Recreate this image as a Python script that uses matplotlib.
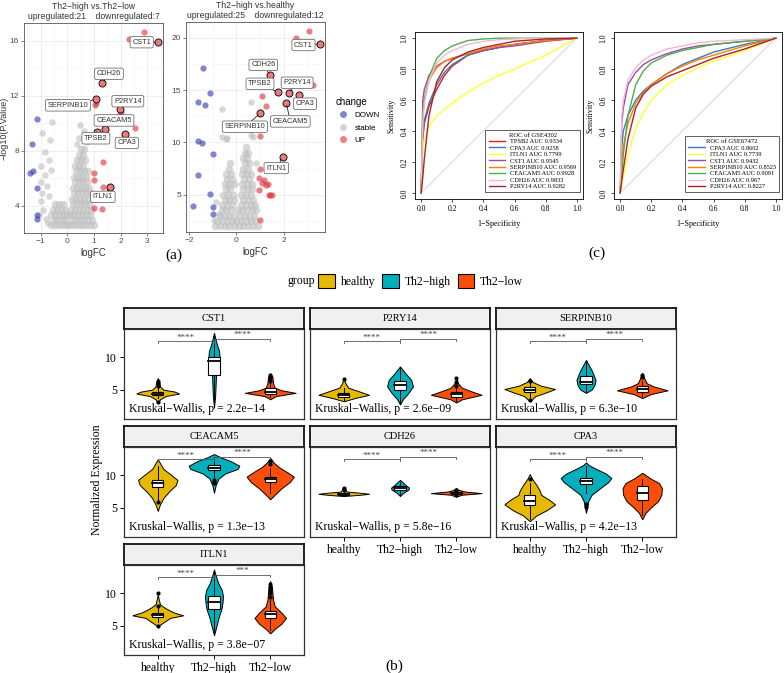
import numpy as np
import matplotlib.pyplot as plt
from matplotlib.patches import Patch, Rectangle
from matplotlib.lines import Line2D

SANS = "Liberation Sans"
SERIF = "Liberation Serif"

# ---------------- volcano data (a) ----------------
# left: Th2-high vs Th2-low
v1_gray = {  # y value -> x values of the stable cloud
    2.6: [-0.6, -0.45, -0.3, -0.15, 0.0, 0.1, 0.25, 0.4, 0.55, 0.7, 0.85, 1.0],
    2.95: [-0.52, -0.38, -0.22, -0.08, 0.17, 0.32, 0.47, 0.62, 0.78, 0.93],
    3.3: [-0.62, -0.48, -0.32, -0.18, -0.03, 0.1, 0.25, 0.4, 0.55, 0.7, 0.85],
    3.7: [-0.55, -0.4, -0.25, -0.1, 0.15, 0.3, 0.45, 0.6, 0.75, 0.9],
    4.1: [-0.45, -0.3, -0.15, 0.22, 0.37, 0.52, 0.67, 0.82],
    4.5: [0.18, 0.33, 0.48, 0.63, 0.78],
    4.9: [0.24, 0.39, 0.54, 0.69, 0.84],
    5.3: [0.2, 0.35, 0.5, 0.65, 0.8],
    5.7: [0.27, 0.42, 0.57, 0.72],
    6.1: [0.25, 0.4, 0.55, 0.7],
    6.5: [0.32, 0.47, 0.62, 0.77],
    6.9: [0.3, 0.45, 0.6],
    7.3: [0.37, 0.52, 0.67],
    7.7: [0.42, 0.57],
    8.1: [0.5, 0.62],
}
v1_gray_x = [-0.58, -0.95, -0.65, -0.85, -0.7, -1.0, -0.6, -0.85, -1.0, -0.75, -0.95, -0.7, -1.0, -0.9,
             -1.05, 0.48, 0.62, 0.45, 0.75, 0.35, -0.8, -0.72]
v1_gray_y = [10.1, 9.3, 8.8, 7.9, 7.3, 6.9, 6.6, 6.2, 5.7, 5.4, 4.9, 4.7, 4.3, 3.7, 3.3, 9.9, 9.4, 8.9,
             8.6, 8.5, 3.0, 2.7]
v1_down_x = [-1.15, -1.33, -1.31, -1.4, -1.15, -1.15, -1.15]
v1_down_y = [10.3, 8.46, 6.52, 6.4, 5.26, 3.32, 3.03]
v1_up_x = [2.89, 2.33, 1.04, 1.98, 2.54, 1.35, 1.01, 1.01, 1.35, 1.01, 1.31, 1.06, 2.0]
v1_up_y = [16.65, 16.1, 11.3, 10.7, 9.67, 7.2, 6.35, 5.87, 5.33, 3.8, 3.73, 11.5, 10.85]
v1_genes = ["CST1", "CDH26", "SERPINB10", "P2RY14", "CEACAM5", "TPSB2", "CPA3", "ITLN1"]
v1_lab_x = [3.41, 1.31, 1.06, 1.98, 1.41, 1.1, 2.16, 1.6]
v1_lab_y = [15.9, 12.9, 11.73, 11.0, 9.6, 9.38, 9.2, 5.33]

# right: Th2-high vs healthy
v2_gray = {
    2.0: [-0.9, -0.7, -0.5, -0.3, -0.1, 0.1, 0.3, 0.5, 0.7, 0.9],
    2.5: [-0.8, -0.6, -0.4, -0.2, 0.0, 0.2, 0.4, 0.6, 0.8],
    3.0: [-0.7, -0.5, -0.3, -0.1, 0.15, 0.35, 0.55, 0.75],
    3.5: [-0.62, -0.42, -0.22, 0.05, 0.25, 0.45, 0.65, 0.85],
    4.0: [-0.6, -0.4, -0.2, 0.2, 0.4, 0.6, 0.8],
    4.5: [-0.5, -0.3, -0.1, 0.3, 0.5, 0.7],
    5.0: [-0.55, -0.35, -0.15, 0.2, 0.4, 0.6],
    5.5: [-0.45, -0.25, 0.3, 0.5, 0.68],
    6.0: [-0.5, -0.3, -0.1, 0.25, 0.45, 0.65],
    6.5: [-0.4, -0.2, 0.32, 0.52],
    7.0: [-0.42, -0.22, 0.25, 0.45, 0.6],
    7.5: [-0.3, 0.3, 0.5],
    8.0: [-0.25, 0.35, 0.52],
    8.5: [0.3, 0.45],
    9.0: [0.35, 0.5],
    9.6: [0.4],
}
v2_gray_x = [-0.59, 0.63, -0.59, -0.38, 0.63, 0.7, -0.87, -0.45, 0.85, -0.75, -0.95]
v2_gray_y = [13.15, 13.9, 10.5, 10.4, 10.7, 10.5, 4.3, 10.3, 8.0, 3.2, 2.6]
v2_down_x = [-1.43, -1.64, -1.33, -1.12, -1.61, -1.47, -0.98, -1.61, -1.12, -1.85, -0.98, -0.98]
v2_down_y = [17.1, 13.9, 13.6, 14.7, 10.1, 9.9, 8.85, 6.9, 5.1, 3.95, 3.8, 3.2]
v2_up_x = [3.08, 2.52, 3.26, 1.09, 1.27, 1.02, 0.98, 0.95, 1.09, 1.27, 1.44, 1.37, 1.02, 1.19, 1.33,
           1.51, 0.97]
v2_up_y = [20.6, 20.0, 15.5, 14.4, 13.5, 10.6, 7.45, 6.56, 6.15, 5.9, 5.0, 5.0, 2.6, 6.4, 6.0, 5.0, 5.45]
v2_genes = ["CST1", "CDH26", "TPSB2", "P2RY14", "CPA3", "CEACAM5", "SERPINB10", "ITLN1"]
v2_lab_x = [3.54, 1.44, 1.75, 2.21, 2.67, 2.11, 1.02, 1.97]
v2_lab_y = [19.4, 16.4, 14.8, 14.7, 14.5, 13.8, 12.8, 8.57]

# ---------------- ROC data (c) ----------------
roc_fpr = [0, 0.01, 0.02, 0.05, 0.1, 0.15, 0.2, 0.3, 0.4, 0.5, 0.6, 0.8, 1.0]
roc1_genes = ["TPSB2", "CPA3", "ITLN1", "CST1", "SERPINB10", "CEACAM5", "CDH26", "P2RY14"]
roc1_auc = ["0.9334", "0.9258", "0.7799", "0.9545", "0.9569", "0.9928", "0.9833", "0.9282"]
roc1_tpr = [
    [0, 0.35, 0.45, 0.56, 0.67, 0.76, 0.82, 0.89, 0.92, 0.94, 0.96, 0.985, 1],
    [0, 0.36, 0.47, 0.58, 0.70, 0.78, 0.83, 0.89, 0.92, 0.94, 0.96, 0.985, 1],
    [0, 0.28, 0.35, 0.43, 0.50, 0.54, 0.58, 0.65, 0.71, 0.76, 0.80, 0.89, 1],
    [0, 0.60, 0.67, 0.76, 0.82, 0.85, 0.87, 0.90, 0.92, 0.94, 0.95, 0.98, 1],
    [0, 0.50, 0.60, 0.73, 0.81, 0.85, 0.87, 0.90, 0.93, 0.95, 0.96, 0.985, 1],
    [0, 0.50, 0.60, 0.75, 0.87, 0.92, 0.95, 0.985, 0.995, 1, 1, 1, 1],
    [0, 0.45, 0.58, 0.73, 0.84, 0.89, 0.92, 0.96, 0.98, 0.99, 0.995, 1, 1],
    [0, 0.10, 0.22, 0.50, 0.72, 0.81, 0.86, 0.91, 0.94, 0.96, 0.98, 0.995, 1],
]
roc2_genes = ["CPA3", "ITLN1", "CST1", "SERPINB10", "CEACAM5", "CDH26", "P2RY14"]
roc2_auc = ["0.8602", "0.7739", "0.9432", "0.8523", "0.9091", "0.967", "0.8227"]
roc2_tpr = [
    [0, 0.30, 0.40, 0.50, 0.60, 0.66, 0.70, 0.77, 0.83, 0.87, 0.91, 0.96, 1],
    [0, 0.05, 0.10, 0.25, 0.42, 0.52, 0.60, 0.70, 0.76, 0.81, 0.85, 0.92, 1],
    [0, 0.45, 0.55, 0.70, 0.78, 0.83, 0.86, 0.90, 0.93, 0.95, 0.96, 0.98, 1],
    [0, 0.20, 0.30, 0.45, 0.58, 0.65, 0.70, 0.77, 0.82, 0.86, 0.89, 0.95, 1],
    [0, 0.12, 0.25, 0.50, 0.70, 0.79, 0.84, 0.89, 0.92, 0.94, 0.96, 0.98, 1],
    [0, 0.50, 0.60, 0.73, 0.81, 0.86, 0.89, 0.93, 0.95, 0.97, 0.98, 0.99, 1],
    [0, 0.08, 0.15, 0.35, 0.55, 0.64, 0.69, 0.75, 0.79, 0.83, 0.87, 0.93, 1],
]
roc_colors = {"TPSB2": "#E41A1C", "CPA3": "#377EB8", "ITLN1": "#FFFF33", "CST1": "#984EA3",
              "SERPINB10": "#FF7F00", "CEACAM5": "#4DAF4A", "CDH26": "#F7B6D2", "P2RY14": "#A5262A"}

# ---------------- violin data (b) ----------------
groups = ["healthy", "Th2\u2212high", "Th2\u2212low"]
group_colors = ["#E7B800", "#00AFBB", "#FC4E07"]
facets = ["CST1", "P2RY14", "SERPINB10", "CEACAM5", "CDH26", "CPA3", "ITLN1"]
kw_p = ["2.2e\u221214", "2.6e\u221209", "6.3e\u221210", "1.3e\u221213", "5.8e\u221216", "4.2e\u221213",
        "3.8e\u221207"]
sig_left = ["****"] * 7
sig_right = ["****"] * 6 + ["***"]

# density outline per gene and group: (y values, half widths)
vio_y = {
    "CST1": [[2.9, 3.5, 4.0, 4.4, 4.7, 5.0, 5.5, 6.0, 6.8],
             [2.2, 4, 6, 8, 9, 10, 11, 12, 13.8],
             [3.5, 4.0, 4.5, 4.9, 5.3, 6.0, 7.0, 7.5]],
    "P2RY14": [[3.2, 3.7, 4.2, 4.8, 5.3, 6.0, 6.8],
               [2.7, 3.5, 4.5, 5.5, 6.5, 7.5, 8.6],
               [3.0, 3.5, 4.2, 4.8, 5.3, 6.0, 6.8]],
    "SERPINB10": [[3.2, 4.0, 4.6, 5.1, 5.6, 6.2, 6.8],
                  [4.5, 5.0, 5.7, 6.5, 7.2, 8.0, 8.8, 9.6],
                  [3.7, 4.3, 4.9, 5.5, 6.0, 6.7, 7.6]],
    "CEACAM5": [[4.5, 5.5, 6.5, 7.5, 8.5, 9.3, 10.2, 11, 12.5],
                [7.3, 8.5, 9.5, 10.3, 11.0, 11.5, 12.2, 12.8, 13.3],
                [6.3, 7, 8, 9, 9.8, 10.5, 11.3, 12, 12.7]],
    "CDH26": [[6.8, 7.0, 7.15, 7.3, 7.5, 8.0, 8.2],
              [6.8, 7.3, 7.8, 8.1, 8.5, 9.0, 9.3],
              [6.7, 7.0, 7.25, 7.5, 7.8, 8.0]],
    "CPA3": [[2.9, 3.8, 4.6, 5.5, 6.2, 7.0, 7.6, 8.5, 9.5, 10.2],
             [4.2, 5, 6, 7, 8, 9, 9.6, 10.3, 11, 11.6, 12.0],
             [3.2, 4.2, 5, 6, 7, 8, 8.8, 9.5, 10.4]],
    "ITLN1": [[4.9, 5.5, 6.2, 6.6, 7.0, 7.4, 7.8, 8.3, 9.0, 9.8],
              [3.5, 4.5, 5.5, 6.5, 7.5, 8.5, 9.5, 10.5, 11.5, 12.5, 13.7],
              [3.8, 4.5, 5.3, 6.2, 7, 8, 9, 10, 11, 11.9]],
}
vio_w = {
    "CST1": [[0, 0.04, 0.14, 0.38, 0.3, 0.1, 0.04, 0.03, 0],
             [0, 0.02, 0.03, 0.04, 0.06, 0.1, 0.09, 0.05, 0],
             [0, 0.1, 0.45, 0.2, 0.08, 0.05, 0.04, 0]],
    "P2RY14": [[0, 0.2, 0.45, 0.25, 0.08, 0.03, 0],
               [0, 0.05, 0.15, 0.23, 0.2, 0.1, 0],
               [0, 0.1, 0.45, 0.25, 0.1, 0.03, 0]],
    "SERPINB10": [[0, 0.1, 0.3, 0.45, 0.2, 0.05, 0],
                  [0, 0.1, 0.15, 0.17, 0.14, 0.1, 0.05, 0],
                  [0, 0.15, 0.45, 0.2, 0.08, 0.04, 0]],
    "CEACAM5": [[0, 0.04, 0.1, 0.2, 0.32, 0.35, 0.22, 0.1, 0],
                [0, 0.03, 0.08, 0.2, 0.42, 0.45, 0.3, 0.12, 0],
                [0, 0.08, 0.2, 0.35, 0.42, 0.3, 0.15, 0.06, 0]],
    "CDH26": [[0, 0.3, 0.45, 0.3, 0.05, 0.02, 0],
              [0, 0.06, 0.15, 0.16, 0.1, 0.04, 0],
              [0, 0.1, 0.45, 0.15, 0.03, 0]],
    "CPA3": [[0, 0.12, 0.3, 0.45, 0.35, 0.2, 0.18, 0.12, 0.04, 0],
             [0, 0.02, 0.04, 0.1, 0.25, 0.4, 0.45, 0.35, 0.18, 0.05, 0],
             [0, 0.06, 0.15, 0.28, 0.34, 0.35, 0.3, 0.15, 0]],
    "ITLN1": [[0, 0.1, 0.22, 0.45, 0.3, 0.2, 0.12, 0.04, 0.02, 0],
              [0, 0.03, 0.06, 0.09, 0.13, 0.15, 0.16, 0.14, 0.08, 0.04, 0],
              [0, 0.08, 0.2, 0.28, 0.2, 0.08, 0.05, 0.04, 0.03, 0]],
}
# box stats: whisker low, q1, median, q3, whisker high
box_stats = {
    "CST1": [(3.7, 4.2, 4.4, 4.7, 5.3), (2.3, 7.2, 9.4, 10.0, 13.6), (3.8, 4.3, 4.7, 5.2, 6.0)],
    "P2RY14": [(3.4, 3.9, 4.1, 4.5, 5.2), (3.0, 5.0, 5.7, 6.4, 8.3), (3.3, 3.9, 4.3, 4.7, 5.3)],
    "SERPINB10": [(3.9, 4.7, 5.0, 5.4, 6.0), (4.6, 5.8, 6.2, 7.1, 9.3), (4.0, 4.6, 5.1, 5.5, 6.4)],
    "CEACAM5": [(6.0, 8.2, 8.8, 9.3, 11.5), (9.8, 10.8, 11.2, 11.6, 12.9), (7.3, 8.9, 9.4, 9.8, 11.2)],
    "CDH26": [(6.9, 7.0, 7.1, 7.3, 7.5), (7.0, 7.7, 8.0, 8.3, 9.0), (6.9, 7.1, 7.25, 7.4, 7.6)],
    "CPA3": [(3.2, 5.4, 6.0, 6.9, 8.8), (7.3, 8.6, 9.1, 9.6, 11.4), (3.8, 6.2, 7.3, 8.3, 9.5)],
    "ITLN1": [(5.5, 6.4, 6.7, 7.0, 7.8), (3.6, 7.6, 8.6, 9.6, 13.5), (4.3, 6.2, 6.8, 7.3, 8.9)],
}
outliers = {
    "CST1": [[3.1, 5.6, 6.0, 6.4], [], [6.4, 6.8, 7.3]],
    "P2RY14": [[6.6], [], [5.6, 6.2, 6.8]],
    "SERPINB10": [[3.4, 6.3], [], [6.9, 7.2]],
    "CEACAM5": [[5.8], [8.8, 9.0, 9.3], [11.8, 12.2]],
    "CDH26": [[7.8, 8.0], [], [6.9, 7.7, 7.8]],
    "CPA3": [[9.4], [5.1, 5.6], []],
    "ITLN1": [[5.0, 8.0, 10.0], [], [9.5, 10.0, 10.5, 11.0, 11.5]],
}

W, H = 784, 673
fig = plt.figure(figsize=(W / 100, H / 100), dpi=100)


def px_axes(x0, y0, x1, y1):
    return fig.add_axes([x0 / W, 1 - y1 / H, (x1 - x0) / W, (y1 - y0) / H])


RED = "#E23B44"
BLUE = "#3B45AE"
GRAY = "#BEBEBE"


def volcano(ax, gray_rows, gx, gy, dx, dy, ux, uy, genes, lx, ly, lab_pos, title, xlim, ylim,
            xmaj, xmin, ymaj, ymin):
    ax.set_axisbelow(True)
    for yv, xs in gray_rows.items():
        ax.scatter(xs, [yv] * len(xs), s=30, color=GRAY, alpha=0.6, lw=0, zorder=2)
    ax.scatter(gx, gy, s=22, color=GRAY, alpha=0.6, lw=0, zorder=2)
    ax.scatter(dx, dy, s=20, color=BLUE, alpha=0.65, lw=0, zorder=3)
    ax.scatter(ux, uy, s=20, color=RED, alpha=0.65, lw=0, zorder=3)
    ax.scatter(lx, ly, s=26, color="#E97A80", edgecolor="black", lw=0.6, zorder=4)
    for g, x, y in zip(genes, lx, ly):
        ax.annotate(g, xy=(x, y), xytext=lab_pos[g], ha="center", va="center", fontsize=5.3,
                    color="#333333", family=SANS, zorder=6,
                    bbox=dict(boxstyle="round,pad=0.3,rounding_size=0.25", fc="white", ec="#555555",
                              lw=0.5),
                    arrowprops=dict(arrowstyle="-", color="black", lw=0.5, shrinkA=0, shrinkB=2))
    ax.set_xlim(*xlim)
    ax.set_ylim(*ylim)
    ax.set_xticks(xmaj)
    ax.set_xticks(xmin, minor=True)
    ax.set_yticks(ymaj)
    ax.set_yticks(ymin, minor=True)
    ax.grid(which="major", color="#EBEBEB", lw=0.6)
    ax.grid(which="minor", color="#F4F4F4", lw=0.4)
    ax.tick_params(which="major", labelsize=6, colors="#4D4D4D", length=2, width=0.5, pad=1.5)
    ax.tick_params(which="minor", length=0)
    for lab in ax.get_xticklabels() + ax.get_yticklabels():
        lab.set_family(SANS)
    for s in ax.spines.values():
        s.set_color("#555555")
        s.set_linewidth(0.6)
    ax.set_title(title, fontsize=6.2, family=SANS, color="#333333", pad=3, linespacing=1.1)
    ax.set_xlabel("logFC", fontsize=7, family=SANS, color="#333333", labelpad=2)


ax1 = px_axes(24, 23, 163, 233)
lab1 = {"CST1": (2.79, 15.9), "CDH26": (1.56, 13.6), "SERPINB10": (0.02, 11.3),
        "P2RY14": (2.27, 11.6), "CEACAM5": (1.75, 10.2), "TPSB2": (1.07, 8.9),
        "CPA3": (2.23, 8.56), "ITLN1": (1.33, 4.63)}
volcano(ax1, v1_gray, v1_gray_x, v1_gray_y, v1_down_x, v1_down_y, v1_up_x, v1_up_y,
        v1_genes, v1_lab_x, v1_lab_y, lab1,
        "Th2\u2212high vs.Th2\u2212low\nupregulated:21    downregulated:7",
        (-1.63, 3.59), (2.0, 17.3), [-1, 0, 1, 2, 3], [-1.5, -0.5, 0.5, 1.5, 2.5, 3.5],
        [4, 8, 12, 16], [2, 6, 10, 14])
fig.text(4 / W, 1 - 128 / H, "\u2212log10(P.Value)", rotation=90, ha="center", va="center",
         fontsize=6.5, family=SANS, color="#333333")

ax2 = px_axes(186, 22, 325, 232)
lab2 = {"CST1": (2.84, 19.3), "CDH26": (1.14, 17.4), "TPSB2": (1.0, 15.6), "P2RY14": (2.57, 15.7),
        "CPA3": (2.9, 13.7), "CEACAM5": (2.28, 12.0), "SERPINB10": (0.36, 11.5), "ITLN1": (1.69, 7.55)}
volcano(ax2, v2_gray, v2_gray_x, v2_gray_y, v2_down_x, v2_down_y, v2_up_x, v2_up_y,
        v2_genes, v2_lab_x, v2_lab_y, lab2,
        "Th2\u2212high vs.healthy\nupregulated:25    downregulated:12",
        (-2.13, 3.75), (1.44, 21.5), [-2, 0, 2], [-1, 1, 3], [5, 10, 15, 20], [2.5, 7.5, 12.5, 17.5])

handles = [Line2D([], [], marker="o", ls="", mfc=c, mec="none", ms=5, alpha=0.65)
           for c in [BLUE, GRAY, RED]]
leg = ax2.legend(handles, ["DOWN", "stable", "UP"], title="change", loc="upper left",
                 bbox_to_anchor=(1.05, 0.66), frameon=False, prop={"family": SANS, "size": 5.8},
                 handletextpad=0.4, labelspacing=0.6, borderaxespad=0)
leg.get_title().set_fontsize(7)
leg.get_title().set_family(SANS)
leg._legend_box.align = "left"


# ---------------- ROC ----------------
def roc_panel(ax, genes, aucs, tprs, title):
    ax.plot([0, 1], [0, 1], color="#D0D0D0", lw=0.6)
    for g, a, t in zip(genes, aucs, tprs):
        ax.plot(roc_fpr, t, color=roc_colors[g], lw=1.0, label=f"{g} AUC {a}")
    ax.set_xlim(-0.04, 1.04)
    ax.set_ylim(-0.04, 1.04)
    ticks = [0, 0.2, 0.4, 0.6, 0.8, 1.0]
    ax.set_xticks(ticks)
    ax.set_yticks(ticks)
    ax.set_xticklabels([f"{t:.1f}" for t in ticks], family=SERIF, fontsize=5.5)
    ax.set_yticklabels([f"{t:.1f}" for t in ticks], family=SERIF, fontsize=5.5, rotation=90,
                       va="center")
    ax.tick_params(length=2.5, width=0.5, pad=2)
    for s in ax.spines.values():
        s.set_linewidth(0.6)
    ax.set_xlabel("1\u2212Specificity", family=SERIF, fontsize=5.8, labelpad=5)
    ax.set_ylabel("Sensitivity", family=SERIF, fontsize=5.8, labelpad=4)
    lg = ax.legend(title=title, loc="lower right", bbox_to_anchor=(1.0, 0.02), fancybox=False,
                   prop={"family": SERIF, "size": 4.6}, handlelength=2.6, labelspacing=0.15,
                   borderpad=0.5, edgecolor="#444444", framealpha=1)
    lg.get_title().set_family(SERIF)
    lg.get_title().set_fontsize(4.8)
    lg.get_frame().set_linewidth(0.6)


roc_panel(px_axes(415, 32, 583, 199), roc1_genes, roc1_auc, roc1_tpr, "ROC of GSE4302")
roc_panel(px_axes(614, 32, 782, 199), roc2_genes, roc2_auc, roc2_tpr, "ROC of GSE67472")

# ---------------- violins ----------------
cols = [(124, 304), (310, 490), (496, 676)]
rows = [(308, 329, 419), (426, 447, 537), (544, 565, 655)]
bottom_of_col = {0: 2, 1: 1, 2: 1}

for k, gene in enumerate(facets):
    r, c = divmod(k, 3)
    x0, x1 = cols[c]
    sy0, py0, py1 = rows[r]
    st = px_axes(x0, sy0, x1, py0)
    st.set_facecolor("#F0F0F0")
    st.set_xticks([])
    st.set_yticks([])
    for s in st.spines.values():
        s.set_linewidth(1.2)
    st.text(0.5, 0.5, gene, ha="center", va="center", family=SERIF, fontsize=7.5,
            transform=st.transAxes)

    ax = px_axes(x0, py0, x1, py1)
    for i, col in enumerate(group_colors):
        xc = i + 1
        ys = np.array(vio_y[gene][i])
        ws = np.array(vio_w[gene][i])
        ax.fill_betweenx(ys, xc - ws, xc + ws, facecolor=col, edgecolor="black", lw=0.7, zorder=2)
        wlo, q1, med, q3, whi = box_stats[gene][i]
        ax.plot([xc, xc], [wlo, q1], color="black", lw=0.7, zorder=3)
        ax.plot([xc, xc], [q3, whi], color="black", lw=0.7, zorder=3)
        ax.add_patch(Rectangle((xc - 0.1, q1), 0.2, q3 - q1, facecolor="white", edgecolor="black",
                               lw=0.8, zorder=4))
        ax.plot([xc - 0.1, xc + 0.1], [med, med], color="black", lw=1.3, zorder=5)
        if outliers[gene][i]:
            ax.scatter([xc] * len(outliers[gene][i]), outliers[gene][i], s=9, color="black",
                       zorder=5, lw=0)
    # significance brackets
    ax.plot([1, 1, 2, 2], [12.2, 12.5, 12.5, 12.2], color="#555555", lw=0.6, zorder=6)
    ax.plot([2, 2, 3, 3], [12.6, 12.9, 12.9, 12.6], color="#555555", lw=0.6, zorder=6)
    ax.text(1.5, 12.45, sig_left[k], ha="center", va="bottom", fontsize=6.5, color="#444444",
            family=SERIF)
    ax.text(2.5, 12.85, sig_right[k], ha="center", va="bottom", fontsize=6.5, color="#444444",
            family=SERIF)
    ax.text(0.03, 0.04, f"Kruskal\u2212Wallis, p = {kw_p[k]}", transform=ax.transAxes,
            family=SERIF, fontsize=8.5, va="bottom", ha="left")
    ax.set_xlim(0.4, 3.6)
    ax.set_ylim(0.45, 14.4)
    ax.set_xticks([1, 2, 3])
    ax.set_yticks([5, 10])
    ax.tick_params(length=3, width=0.7, labelsize=8.5, pad=2)
    for s in ax.spines.values():
        s.set_linewidth(0.9)
        s.set_color("#333333")
    if bottom_of_col[c] == r:
        ax.set_xticklabels(groups, family=SERIF)
    else:
        ax.set_xticklabels([])
        ax.tick_params(axis="x", length=0)
    if c == 0:
        ax.set_yticklabels(["5", "10"], family=SERIF)
    else:
        ax.set_yticklabels([])
        ax.tick_params(axis="y", length=0)

fig.text(97 / W, 1 - 480 / H, "Normalized Expression", rotation=90, ha="center", va="center",
         family=SERIF, fontsize=8.5)

ghandles = [Patch(facecolor=c, edgecolor="black", lw=0.8) for c in group_colors]
fig.text(287 / W, 1 - 281 / H, "group", ha="left", va="center", family=SERIF, fontsize=8.5)
fig.legend(ghandles, groups, loc="center left", bbox_to_anchor=(318 / W, 1 - 281 / H), ncol=3,
           frameon=False, prop={"family": SERIF, "size": 8.5}, handlelength=1.4, handleheight=1.4,
           handletextpad=0.5, columnspacing=0.6, borderaxespad=0, borderpad=0)

fig.text(174 / W, 1 - 255 / H, "(a)", ha="center", va="center", family=SERIF, fontsize=11)
fig.text(597 / W, 1 - 253 / H, "(c)", ha="center", va="center", family=SERIF, fontsize=11)
fig.text(394 / W, 1 - 666 / H, "(b)", ha="center", va="center", family=SERIF, fontsize=11)

fig.savefig("out.png", dpi=100)
